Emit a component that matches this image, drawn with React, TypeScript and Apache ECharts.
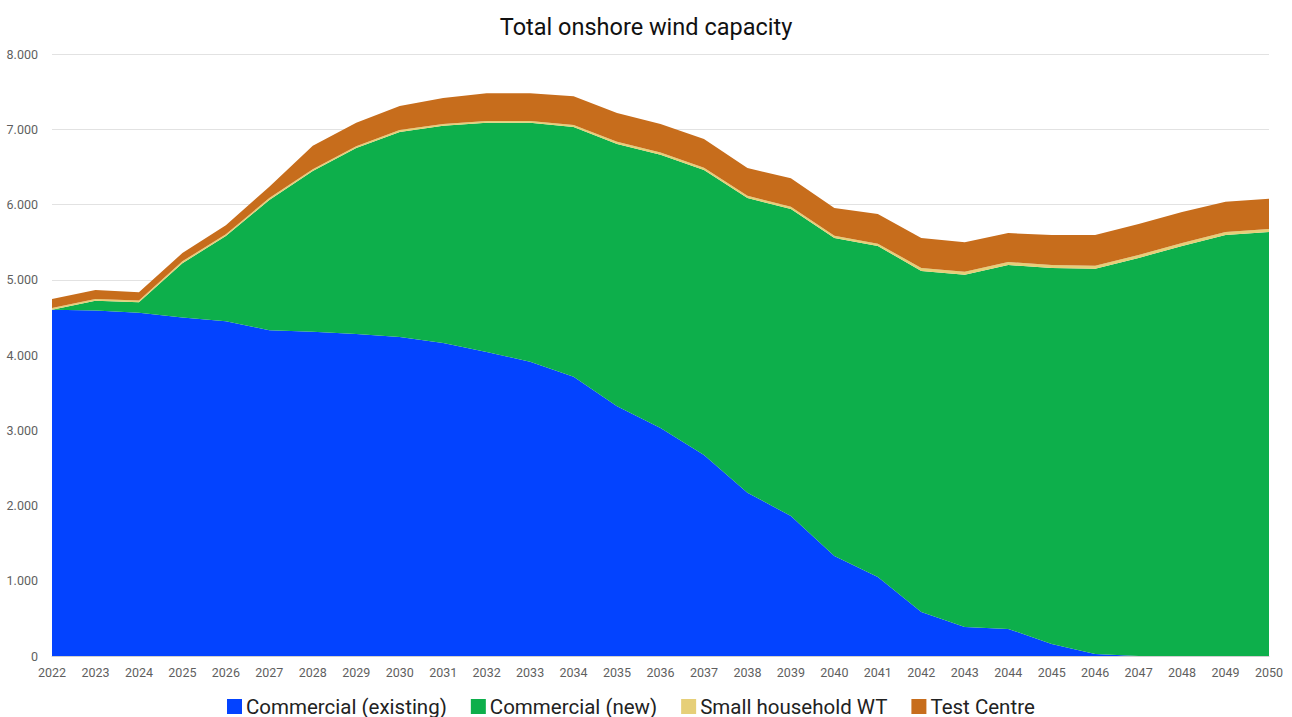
import React, { useEffect, useRef } from "react";
import * as echarts from "echarts";

const years = ["2022","2023","2024","2025","2026","2027","2028","2029","2030","2031","2032","2033","2034","2035","2036","2037","2038","2039","2040","2041","2042","2043","2044","2045","2046","2047","2048","2049","2050"];
const commercialExisting = [4600,4590,4560,4500,4450,4330,4310,4280,4240,4160,4040,3910,3710,3320,3030,2670,2170,1860,1330,1050,585,385,360,160,25,0,0,0,0];
const commercialNew = [0,130,140,720,1130,1730,2135,2470,2725,2885,3045,3175,3320,3485,3630,3790,3915,4080,4225,4400,4530,4680,4835,4995,5120,5290,5450,5595,5635];
const smallHousehold = [25,25,25,25,25,25,25,25,25,25,25,25,25,30,30,30,30,30,30,30,40,40,40,40,40,40,40,40,40];
const testCentre = [120,120,110,110,120,150,310,310,320,345,370,370,385,380,380,380,370,380,370,395,400,395,385,400,410,410,410,400,400];

const seriesNames = ["Commercial (existing)", "Commercial (new)", "Small household WT", "Test Centre"];
const seriesData = [commercialExisting, commercialNew, smallHousehold, testCentre];
const colors = ["#0343FF", "#0DAF4B", "#E6CF78", "#C76D1C"];

export default function App() {
  const ref = useRef<HTMLDivElement>(null);
  useEffect(() => {
    document.body.style.margin = "0";
    document.body.style.overflow = "hidden";
    if (!ref.current) return;
    const chart = echarts.init(ref.current, null, { renderer: "svg" });
    chart.setOption({
      animation: false,
      color: colors,
      title: {
        text: "Total onshore wind capacity",
        left: "center",
        top: 10,
        textStyle: { fontFamily: "Roboto", fontSize: 23.5, fontWeight: "normal", color: "#111" },
      },
      legend: {
        top: 696,
        left: 227,
        padding: 0,
        itemWidth: 15,
        itemHeight: 15,
        itemGap: 24,
        icon: "rect",
        textStyle: { fontFamily: "Roboto", fontSize: 20.5, lineHeight: 20, color: "#222", padding: [0, 0, 0, -1] },
        data: seriesNames,
      },
      grid: { left: 52, right: 23, top: 54, bottom: 61, containLabel: false },
      xAxis: {
        type: "category",
        data: years,
        boundaryGap: false,
        axisLine: { show: true, lineStyle: { color: "#d0d0d0" } },
        axisTick: { show: false },
        axisLabel: { fontFamily: "Roboto", fontSize: 12.5, color: "#5f5f5f", margin: 10 },
      },
      yAxis: {
        type: "value",
        min: 0,
        max: 8000,
        interval: 1000,
        axisLine: { show: false },
        axisTick: { show: false },
        splitLine: { lineStyle: { color: "#e2e2e2" } },
        axisLabel: {
          fontFamily: "Roboto",
          fontSize: 12.5,
          color: "#5f5f5f",
          margin: 14,
          formatter: (v: number) => (v === 0 ? "0" : (v / 1000).toFixed(0) + ".000"),
        },
      },
      series: seriesNames.map((name, i) => ({
        name,
        type: "line",
        stack: "total",
        data: seriesData[i],
        symbol: "none",
        lineStyle: { width: 0 },
        areaStyle: { color: colors[i], opacity: 1 },
        itemStyle: { color: colors[i] },
      })),
    });
    return () => chart.dispose();
  }, []);
  return <div ref={ref} style={{ width: 1292, height: 717 }} />;
}
